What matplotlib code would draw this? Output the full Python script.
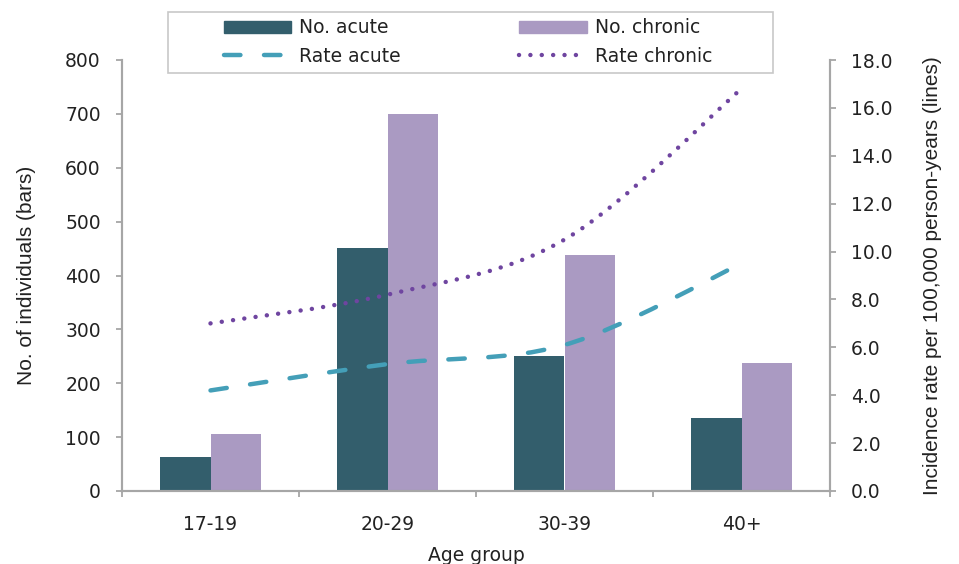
import numpy as np
import matplotlib.pyplot as plt
from matplotlib.path import Path
from matplotlib.patches import PathPatch, Rectangle
from matplotlib.lines import Line2D
from matplotlib.ticker import FormatStrFormatter

plt.rcParams['font.family'] = ['DejaVu Sans']

age_groups = ['17-19', '20-29', '30-39', '40+']
no_acute = [63, 451, 250, 135]
no_chronic = [106, 700, 438, 237]
rate_acute = [4.2, 5.3, 6.1, 9.5]
rate_chronic = [7.0, 8.2, 10.5, 16.8]

c_acute_bar = '#335e6c'
c_chronic_bar = '#aa9ac2'
c_acute_line = '#449fb8'
c_chronic_line = '#6f45a0'
c_axis = '#a6a6a6'
c_text = '#222222'

fs = 13.5
dash_style = (0, (3.7, 5.3))
dot_style = (0, (0.01, 2.55))


# Excel-style smoothed line: cubic bezier between the data points
def smooth_path(xs, ys):
    pts = np.column_stack([xs, ys]).astype(float)
    n = len(pts)
    verts = [pts[0]]
    codes = [Path.MOVETO]
    for i in range(n - 1):
        p0 = pts[max(i - 1, 0)]
        p1 = pts[i]
        p2 = pts[i + 1]
        p3 = pts[min(i + 2, n - 1)]
        verts += [p1 + (p2 - p0) / 6, p2 - (p3 - p1) / 6, p2]
        codes += [Path.CURVE4] * 3
    return Path(verts, codes)


fig = plt.figure(figsize=(9.59, 5.64), dpi=100)
ax = fig.add_axes([122 / 959, 1 - 491 / 564, 708 / 959, 431 / 564])
ax2 = ax.twinx()

x = np.arange(len(age_groups))
w = 0.285
ax.bar(x - w / 2, no_acute, w, color=c_acute_bar, zorder=2)
ax.bar(x + w / 2, no_chronic, w, color=c_chronic_bar, zorder=2)

ax2.add_patch(PathPatch(smooth_path(x, rate_acute), fill=False, edgecolor=c_acute_line,
                        lw=3.2, linestyle=dash_style, capstyle='round'))
ax2.add_patch(PathPatch(smooth_path(x, rate_chronic), fill=False, edgecolor=c_chronic_line,
                        lw=3.2, linestyle=dot_style, capstyle='round'))

ax.set_xlim(-0.5, 3.5)
ax.set_ylim(0, 800)
ax2.set_ylim(0, 18)
ax.set_yticks(np.arange(0, 801, 100))
ax2.set_yticks(np.arange(0, 18.1, 2))
ax2.yaxis.set_major_formatter(FormatStrFormatter('%.1f'))

ax.set_xticks(np.arange(-0.5, 3.6, 1))
ax.set_xticklabels([])
ax.set_xticks(x, minor=True)
ax.set_xticklabels(age_groups, minor=True)
ax.tick_params(axis='x', which='minor', length=0, pad=17, labelsize=fs, colors=c_text)
ax.tick_params(axis='x', which='major', length=4.5, color=c_axis, width=1.3)
ax.tick_params(axis='y', length=4.3, color=c_axis, width=1.3, labelsize=fs, labelcolor=c_text, pad=11)
ax2.tick_params(axis='y', length=4.3, color=c_axis, width=1.3, labelsize=fs, labelcolor=c_text, pad=11)

for a in (ax, ax2):
    a.spines['top'].set_visible(False)
    for s in ('left', 'right', 'bottom'):
        a.spines[s].set_color(c_axis)
        a.spines[s].set_linewidth(1.5)

ax.set_ylabel('No. of individuals (bars)', fontsize=15, color=c_text, family='Liberation Sans')
ax.yaxis.set_label_coords(-0.1215, 0.5)
ax2.set_ylabel('Incidence rate per 100,000 person-years (lines)', fontsize=15, color=c_text,
               family='Liberation Sans')
ax2.yaxis.set_label_coords(1.1314, 0.5)
ax.set_xlabel('Age group', fontsize=fs, color=c_text)
ax.xaxis.set_label_coords(0.5, -0.1276)

handles = [
    Rectangle((0, 0), 1, 1, color=c_acute_bar),
    Line2D([], [], color=c_acute_line, lw=3.2, linestyle=dash_style, dash_capstyle='round'),
    Rectangle((0, 0), 1, 1, color=c_chronic_bar),
    Line2D([], [], color=c_chronic_line, lw=3.2, linestyle=dot_style, dash_capstyle='round'),
]
labels = ['No. acute', 'Rate acute', 'No. chronic', 'Rate chronic']
leg = fig.legend(handles, labels, ncol=2, loc='center',
                 bbox_to_anchor=(468 / 959, 1 - 42 / 564), frameon=False,
                 fontsize=fs, handlelength=3.6, handleheight=0.6, columnspacing=6.3,
                 labelspacing=0.5, borderpad=0.0, handletextpad=0.45)
for t in leg.get_texts():
    t.set_color(c_text)

# legend frame (Excel draws a wide box around the centred entries)
fig.patches.append(Rectangle((168 / 959, 1 - 73 / 564), 605 / 959, 61 / 564,
                             transform=fig.transFigure, fill=False,
                             edgecolor='#c8c8c8', linewidth=1.2))

fig.savefig('out.png', dpi=100)
